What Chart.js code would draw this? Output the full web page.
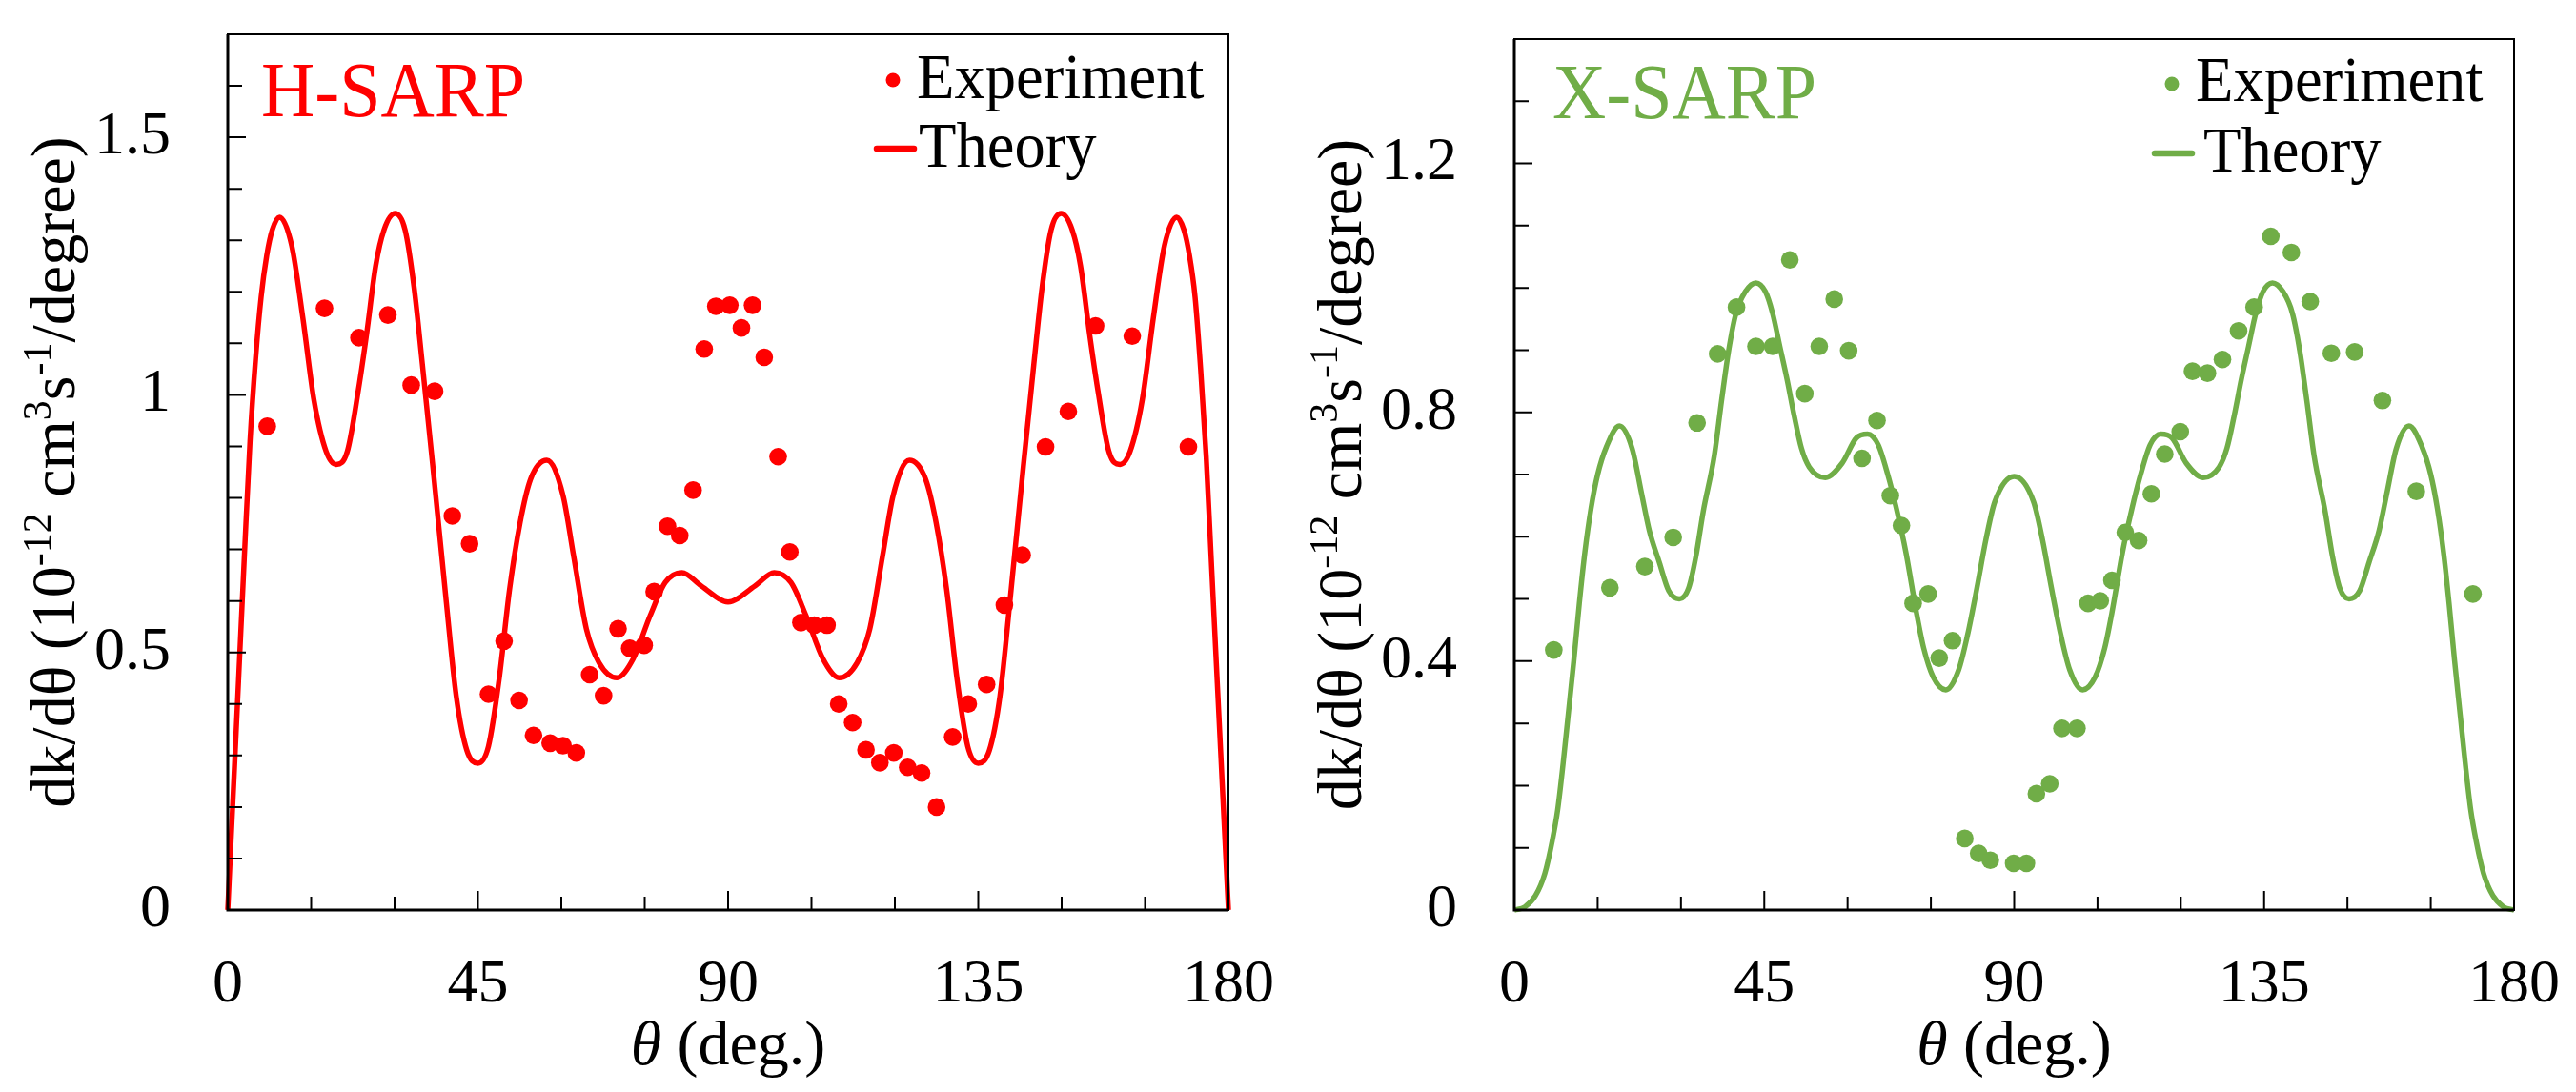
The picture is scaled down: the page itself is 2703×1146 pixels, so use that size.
<!DOCTYPE html>
<html>
<head>
<meta charset="utf-8">
<script src="https://cdn.jsdelivr.net/npm/chart.js@4.4.1/dist/chart.umd.min.js"></script>
<style>
  html, body { margin: 0; padding: 0; background: #fff; }
  #wrap { position: relative; width: 2703px; height: 1146px; overflow: hidden; }
  canvas { position: absolute; top: 0; }
  #hChart { left: 0; }
  #xChart { left: 1350px; }
</style>
</head>
<body>
<div id="wrap">
  <canvas id="hChart" width="1350" height="1146"></canvas>
  <canvas id="xChart" width="1353" height="1146"></canvas>
</div>
<script>
// tick labels
const xTickLabels = [0, 45, 90, 135, 180];
const hYTickLabels = [0, 0.5, 1, 1.5];
const xsYTickLabels = [0, 0.4, 0.8, 1.2];

// H-SARP experiment
const hExpTheta = [7.1, 17.4, 23.6, 28.8, 33.0, 37.2, 40.4, 43.5, 46.9, 49.7, 52.4, 55.0, 58.0, 60.3, 62.7,
  65.1, 67.6, 70.2, 72.3, 74.9, 76.7, 79.1, 81.3, 83.7, 85.7, 87.8, 90.3, 92.4, 94.4, 96.5, 99.0, 101.1,
  103.1, 105.5, 107.8, 109.9, 112.4, 114.8, 117.3, 119.8, 122.3, 124.8, 127.5, 130.4, 133.2, 136.5, 139.7,
  142.9, 147.1, 151.2, 156.1, 162.7, 172.8];
const hExpValue = [0.939, 1.168, 1.111, 1.155, 1.019, 1.007, 0.765, 0.711, 0.419, 0.522, 0.407, 0.339, 0.324,
  0.319, 0.305, 0.457, 0.416, 0.546, 0.508, 0.514, 0.618, 0.745, 0.727, 0.815, 1.089, 1.172, 1.174, 1.130,
  1.174, 1.073, 0.880, 0.695, 0.558, 0.553, 0.553, 0.400, 0.364, 0.311, 0.286, 0.305, 0.277, 0.266, 0.200,
  0.336, 0.400, 0.438, 0.592, 0.689, 0.899, 0.968, 1.134, 1.114, 0.899];

// H-SARP theory
const hTheoryTheta = [0, 1, 2, 3, 4, 5, 6, 7, 8, 9.3, 11.5, 13.5, 15.5, 17.7, 19.5, 21.5, 23.5, 25.0, 26.6,
  28.1, 30.1, 31.9, 33.5, 35.0, 36.9, 39.2, 41.1, 43.0, 45.0, 46.9, 48.8, 50.7, 52.6, 54.5, 57.4, 60.3, 62.2,
  64.5, 66.8, 70.0, 72.9, 76.0, 78.7, 81.7, 85.2, 90.0, 94.8, 98.3, 101.3, 104.0, 107.1, 110.0, 113.2, 115.5,
  117.8, 119.7, 122.6, 125.5, 127.4, 129.3, 131.2, 133.1, 135.0, 137.0, 138.9, 140.8, 143.1, 145.0, 146.5,
  148.1, 149.9, 151.9, 153.4, 155.0, 156.5, 158.5, 160.5, 162.3, 164.5, 166.5, 168.5, 170.7, 172, 173, 174,
  175, 176, 177, 178, 179, 180];
const hTheoryValue = [0, 0.23, 0.46, 0.69, 0.91, 1.07, 1.19, 1.27, 1.32, 1.345, 1.29, 1.15, 0.99, 0.89, 0.865,
  0.89, 1.01, 1.12, 1.25, 1.32, 1.352, 1.32, 1.21, 1.06, 0.86, 0.61, 0.415, 0.31, 0.285, 0.318, 0.447, 0.623,
  0.753, 0.837, 0.873, 0.805, 0.688, 0.546, 0.48, 0.451, 0.487, 0.572, 0.636, 0.655, 0.629, 0.598, 0.629,
  0.655, 0.636, 0.572, 0.487, 0.451, 0.48, 0.546, 0.688, 0.805, 0.873, 0.837, 0.753, 0.623, 0.447, 0.318,
  0.285, 0.31, 0.415, 0.61, 0.86, 1.06, 1.21, 1.32, 1.352, 1.32, 1.25, 1.12, 1.01, 0.89, 0.865, 0.89, 0.99,
  1.15, 1.29, 1.345, 1.32, 1.27, 1.19, 1.05, 0.88, 0.66, 0.44, 0.22, 0];

// X-SARP experiment
const xExpTheta = [7.1, 17.2, 23.5, 28.6, 32.9, 36.6, 40.0, 43.5, 46.5, 49.6, 52.3, 54.9, 57.6, 60.2, 62.6,
  65.3, 67.7, 69.7, 71.8, 74.5, 76.5, 78.9, 81.1, 83.6, 85.7, 89.9, 92.2, 94.0, 96.4, 98.6, 101.3, 103.3,
  105.5, 107.6, 110.0, 112.4, 114.7, 117.1, 119.9, 122.1, 124.8, 127.5, 130.4, 133.2, 136.2, 139.9, 143.3,
  147.1, 151.3, 156.3, 162.4, 172.6];
const xExpValue = [0.418, 0.518, 0.552, 0.599, 0.783, 0.894, 0.969, 0.906, 0.906, 1.045, 0.830, 0.906, 0.982,
  0.899, 0.726, 0.787, 0.666, 0.618, 0.493, 0.508, 0.405, 0.433, 0.115, 0.091, 0.080, 0.075, 0.075, 0.187,
  0.203, 0.292, 0.292, 0.493, 0.497, 0.530, 0.607, 0.594, 0.669, 0.733, 0.769, 0.866, 0.863, 0.885, 0.931,
  0.969, 1.083, 1.057, 0.978, 0.895, 0.897, 0.819, 0.673, 0.508];

// X-SARP theory
const xTheoryTheta = [0, 1.9, 3.8, 5.5, 6.8, 7.8, 8.8, 9.7, 10.7, 11.7, 12.7, 13.8, 15.0, 16.6, 18.9, 21.2,
  22.9, 24.3, 26.1, 27.8, 29.7, 31.4, 32.7, 34.0, 36.0, 37.3, 38.6, 39.9, 41.6, 43.5, 45.2, 46.5, 47.8, 49.1,
  50.4, 51.7, 53.1, 56.0, 59.0, 61.6, 63.6, 65.5, 67.2, 68.8, 70.5, 72.4, 73.7, 75.4, 77.7, 80.0, 81.6, 83.3,
  84.9, 86.5, 90.0, 93.5, 95.1, 96.7, 98.4, 100.0, 102.3, 104.6, 106.3, 107.6, 109.5, 111.2, 112.8, 114.5,
  116.4, 118.4, 121.0, 124.0, 126.9, 128.3, 129.6, 130.9, 132.2, 133.5, 134.8, 136.5, 138.4, 140.1, 141.4,
  142.7, 144.0, 146.0, 147.3, 148.6, 150.3, 152.2, 153.9, 155.7, 157.1, 158.8, 161.1, 163.4, 165.0, 166.2,
  167.3, 168.3, 169.3, 170.3, 171.2, 172.2, 173.2, 174.5, 176.2, 178.1, 180];
const xTheoryValue = [0, 0.005, 0.023, 0.059, 0.11, 0.161, 0.237, 0.314, 0.40, 0.493, 0.575, 0.645, 0.70,
  0.745, 0.778, 0.742, 0.67, 0.61, 0.559, 0.513, 0.50, 0.518, 0.569, 0.64, 0.73, 0.818, 0.90, 0.959, 0.994,
  1.008, 0.994, 0.959, 0.906, 0.853, 0.794, 0.742, 0.712, 0.695, 0.718, 0.759, 0.765, 0.748, 0.701, 0.645,
  0.575, 0.478, 0.421, 0.375, 0.354, 0.386, 0.442, 0.518, 0.595, 0.656, 0.697, 0.656, 0.595, 0.518, 0.442,
  0.386, 0.354, 0.375, 0.421, 0.478, 0.575, 0.645, 0.701, 0.748, 0.765, 0.759, 0.718, 0.695, 0.712, 0.742,
  0.794, 0.853, 0.906, 0.959, 0.994, 1.008, 0.994, 0.959, 0.90, 0.818, 0.73, 0.64, 0.569, 0.518, 0.50, 0.513,
  0.559, 0.61, 0.67, 0.742, 0.778, 0.745, 0.70, 0.645, 0.575, 0.493, 0.40, 0.314, 0.237, 0.161, 0.11, 0.059,
  0.023, 0.005, 0];

const FONT = "'Liberation Serif', 'Times New Roman', serif";

// draw text a little narrower, like the source figure
function narrowText(ctx, text, x, y, font) {
  ctx.save();
  ctx.font = font;
  ctx.translate(x, y);
  ctx.scale(0.95, 1);
  ctx.fillText(text, 0, 0);
  ctx.restore();
}

// titles, legend, inward ticks and frame
const decorPlugin = {
  id: 'decor',
  afterDraw(chart, args, o) {
    const ctx = chart.ctx;
    const a = chart.chartArea;
    const xs = chart.scales.x, ys = chart.scales.y;
    ctx.save();

    ctx.strokeStyle = '#000';
    ctx.lineWidth = 2;
    ctx.strokeRect(a.left, a.top, a.right - a.left, a.bottom - a.top);
    ctx.lineWidth = 3;
    ctx.beginPath();
    ctx.moveTo(a.left, a.top);
    ctx.lineTo(a.left, a.bottom);
    ctx.lineTo(a.right, a.bottom);
    ctx.stroke();

    ctx.lineWidth = 2;
    ctx.beginPath();
    xs.ticks.forEach(t => {
      const p = xs.getPixelForValue(t.value);
      const len = t.label ? 20 : 14;
      ctx.moveTo(p, a.bottom);
      ctx.lineTo(p, a.bottom - len);
    });
    ys.ticks.forEach(t => {
      const p = ys.getPixelForValue(t.value);
      const len = t.label ? 19 : 15;
      ctx.moveTo(a.left, p);
      ctx.lineTo(a.left + len, p);
    });
    ctx.stroke();

    // panel name
    ctx.fillStyle = o.color;
    ctx.textBaseline = 'alphabetic';
    ctx.textAlign = 'left';
    narrowText(ctx, o.name, o.nameX, o.nameY, '82px ' + FONT);

    // legend
    ctx.beginPath();
    ctx.arc(o.dotX, o.dotY, 7.5, 0, Math.PI * 2);
    ctx.fill();
    ctx.strokeStyle = o.color;
    ctx.lineWidth = 6.5;
    ctx.lineCap = 'round';
    ctx.beginPath();
    ctx.moveTo(o.lineX1, o.lineY);
    ctx.lineTo(o.lineX2, o.lineY);
    ctx.stroke();
    ctx.fillStyle = '#000';
    narrowText(ctx, 'Experiment', o.expX, o.expY, '68px ' + FONT);
    narrowText(ctx, 'Theory', o.thX, o.thY, '68px ' + FONT);

    // x title
    ctx.font = 'italic 66px ' + FONT;
    const w1 = ctx.measureText('θ').width;
    ctx.font = '66px ' + FONT;
    const w2 = ctx.measureText(' (deg.)').width;
    const cx = (a.left + a.right) / 2;
    const sx = cx - (w1 + w2) / 2;
    ctx.font = 'italic 66px ' + FONT;
    ctx.fillText('θ', sx, 1117);
    ctx.font = '66px ' + FONT;
    ctx.fillText(' (deg.)', sx + w1, 1117);

    // y title with superscripts
    const size = 66, sup = 42;
    const parts = [['dk/dθ (10', 0], ['-12', 1], [' cm', 0], ['3', 1], ['s', 0], ['-1', 1], ['/degree)', 0]];
    let total = 0;
    parts.forEach(p => {
      ctx.font = (p[1] ? sup : size) + 'px ' + FONT;
      p.push(ctx.measureText(p[0]).width);
      total += p[2];
    });
    ctx.translate(78, (a.top + a.bottom) / 2);
    ctx.rotate(-Math.PI / 2);
    let px = -total / 2;
    parts.forEach(p => {
      ctx.font = (p[1] ? sup : size) + 'px ' + FONT;
      ctx.fillText(p[0], px, p[1] ? -25 : 0);
      px += p[2];
    });
    ctx.restore();
  }
};

function pairs(xs, ys) {
  return xs.map((x, i) => ({ x: x, y: ys[i] }));
}

function makeChart(id, c) {
  return new Chart(document.getElementById(id), {
    type: 'scatter',
    data: {
      datasets: [
        {
          label: 'Experiment',
          data: pairs(c.expTheta, c.expValue),
          backgroundColor: c.color,
          borderWidth: 0,
          pointRadius: 9.3,
          showLine: false,
          order: 0
        },
        {
          label: 'Theory',
          type: 'line',
          data: pairs(c.thTheta, c.thValue),
          borderColor: c.color,
          borderWidth: 5.5,
          borderJoinStyle: 'round',
          pointRadius: 0,
          fill: false,
          cubicInterpolationMode: 'monotone',
          clip: 6,
          order: 1
        }
      ]
    },
    options: {
      responsive: false,
      animation: false,
      events: [],
      layout: { padding: { top: c.top, right: c.right, left: 0, bottom: 0 } },
      plugins: {
        legend: { display: false },
        tooltip: { enabled: false },
        decor: c.decor
      },
      scales: {
        x: {
          type: 'linear', min: 0, max: 180,
          grid: { display: false, drawTicks: false },
          border: { display: false },
          ticks: {
            stepSize: 15, autoSkip: false, maxRotation: 0, minRotation: 0, padding: 41, color: '#000',
            font: { family: FONT, size: 64, lineHeight: 1.2 },
            callback: v => xTickLabels.includes(v) ? String(v) : ''
          },
          afterFit: s => { s.height = 1146 - c.bottom; s.paddingLeft = 0; s.paddingRight = 0; }
        },
        y: {
          type: 'linear', min: 0, max: c.yMax,
          grid: { display: false, drawTicks: false },
          border: { display: false },
          ticks: {
            stepSize: 0.1, autoSkip: false, padding: 60, color: '#000',
            font: { family: FONT, size: 64, lineHeight: 1.2 },
            callback: v => {
              const r = Math.round(v * 10) / 10;
              return c.yLabels.includes(r) ? String(r) : '';
            }
          },
          afterFit: s => { s.width = 239; s.paddingTop = 0; s.paddingBottom = 0; }
        }
      }
    },
    plugins: [decorPlugin]
  });
}

makeChart('hChart', {
  expTheta: hExpTheta, expValue: hExpValue, thTheta: hTheoryTheta, thValue: hTheoryValue,
  color: '#ff0000', yMax: 1.7, yLabels: hYTickLabels, top: 36, right: 61, bottom: 955,
  decor: {
    color: '#ff0000', name: 'H-SARP', nameX: 274, nameY: 122,
    dotX: 937, dotY: 84, expX: 962, expY: 103,
    lineX1: 920, lineX2: 959, lineY: 156, thX: 964, thY: 175
  }
});

makeChart('xChart', {
  expTheta: xExpTheta, expValue: xExpValue, thTheta: xTheoryTheta, thValue: xTheoryValue,
  color: '#70ad47', yMax: 1.4, yLabels: xsYTickLabels, top: 41, right: 65, bottom: 955,
  decor: {
    color: '#70ad47', name: 'X-SARP', nameX: 279, nameY: 124,
    dotX: 929, dotY: 88, expX: 954, expY: 106,
    lineX1: 911, lineX2: 950, lineY: 161, thX: 962, thY: 180
  }
});
</script>
</body>
</html>
